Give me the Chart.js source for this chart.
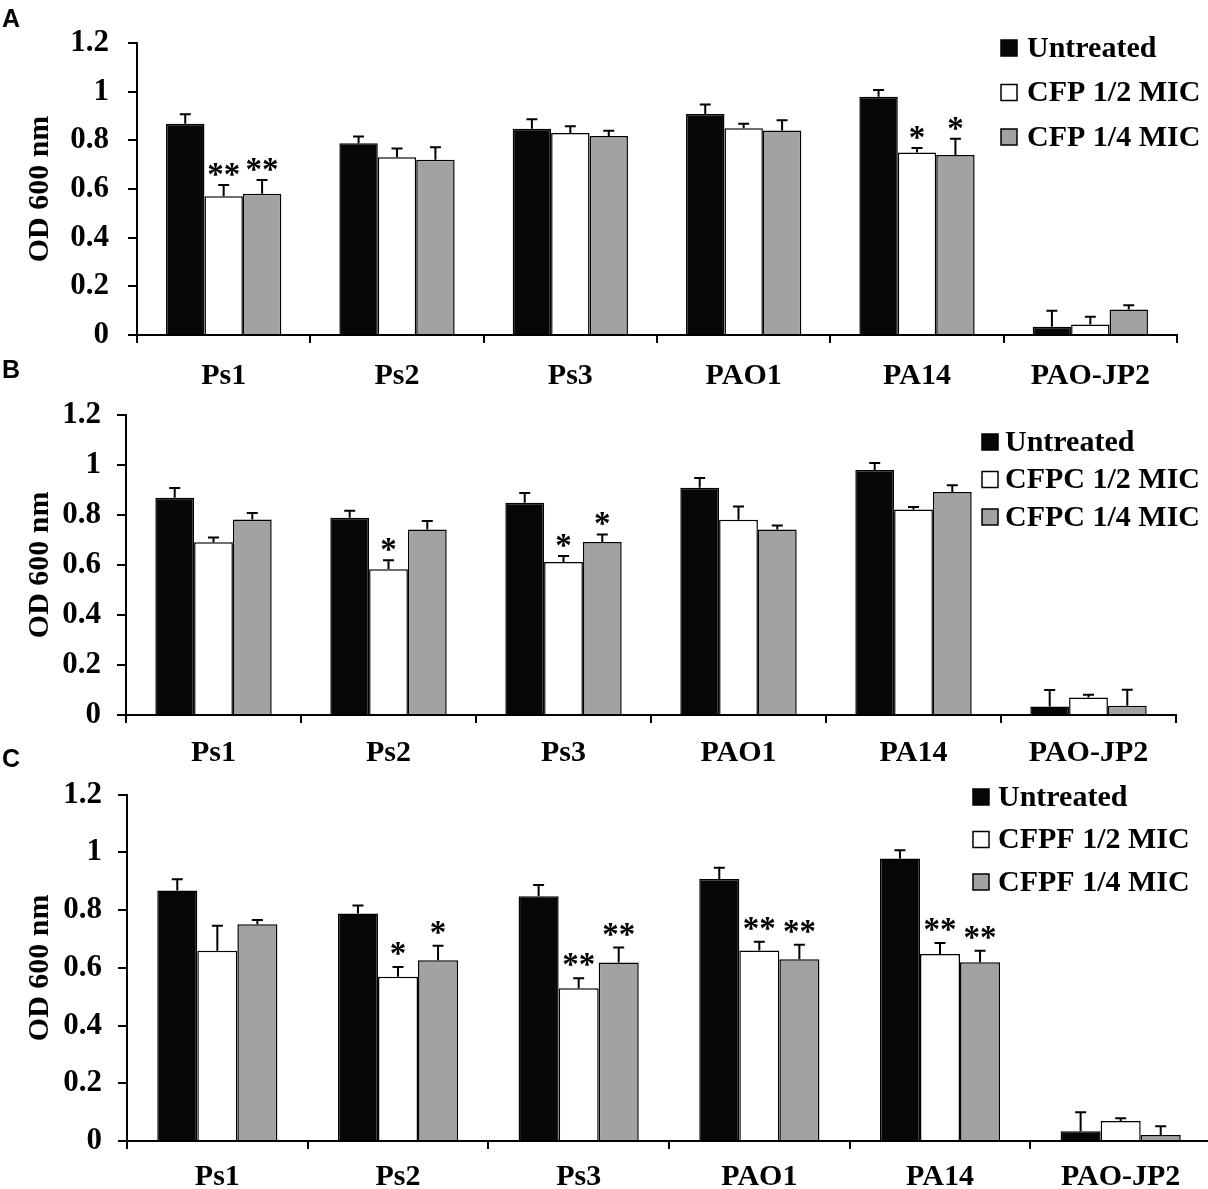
<!DOCTYPE html>
<html>
<head>
<meta charset="utf-8">
<script src="https://cdn.jsdelivr.net/npm/chart.js@4.4.1/dist/chart.umd.min.js"></script>
<style>
  html, body { margin: 0; padding: 0; background: #fff; overflow: hidden; width: 1208px; height: 1189px; }
  .panel { position: absolute; left: 0; }
  .tag { position: absolute; left: 2px; font: bold 25px "Liberation Sans", Arial, sans-serif; line-height: 25px; color: #000; }
</style>
</head>
<body>
<div class="panel" style="top:0px;width:1208px;height:395px"><canvas id="chartA"></canvas></div>
<div class="panel" style="top:380px;width:1208px;height:390px"><canvas id="chartB"></canvas></div>
<div class="panel" style="top:760px;width:1216px;height:429px"><canvas id="chartC"></canvas></div>
<div class="tag" style="top:6px">A</div>
<div class="tag" style="top:357px">B</div>
<div class="tag" style="top:746px">C</div>
<script>
const categories = ["Ps1", "Ps2", "Ps3", "PAO1", "PA14", "PAO-JP2"];
const yTickLabels = ["0", "0.2", "0.4", "0.6", "0.8", "1", "1.2"];

// untreated control, same in all three panels
const untreated = [0.868, 0.788, 0.848, 0.908, 0.979, 0.034];
const untreatedErr = [0.039, 0.028, 0.039, 0.039, 0.028, 0.066];

// panel A - CFP
const cfpHalf = [0.57, 0.73, 0.83, 0.85, 0.75, 0.043];
const cfpHalfErr = [0.046, 0.036, 0.028, 0.018, 0.018, 0.032];
const cfpHalfSig = ["**", "", "", "", "*", ""];
const cfpQuarter = [0.58, 0.72, 0.818, 0.84, 0.74, 0.105];
const cfpQuarterErr = [0.057, 0.052, 0.021, 0.043, 0.066, 0.017];
const cfpQuarterSig = ["**", "", "", "", "*", ""];

// panel B - CFPC
const cfpcHalf = [0.69, 0.582, 0.611, 0.78, 0.821, 0.07];
const cfpcHalfErr = [0.019, 0.036, 0.024, 0.053, 0.01, 0.011];
const cfpcHalfSig = ["", "*", "*", "", "", ""];
const cfpcQuarter = [0.781, 0.741, 0.691, 0.741, 0.891, 0.037];
const cfpcQuarterErr = [0.026, 0.034, 0.03, 0.016, 0.027, 0.064];
const cfpcQuarterSig = ["", "", "*", "", "", ""];

// panel C - CFPF
const cfpfHalf = [0.659, 0.569, 0.529, 0.66, 0.648, 0.069];
const cfpfHalfErr = [0.087, 0.034, 0.035, 0.03, 0.038, 0.01];
const cfpfHalfSig = ["", "*", "**", "**", "**", ""];
const cfpfQuarter = [0.751, 0.626, 0.618, 0.63, 0.619, 0.021];
const cfpfQuarterErr = [0.015, 0.05, 0.052, 0.05, 0.04, 0.03];
const cfpfQuarterSig = ["", "*", "**", "**", "**", ""];

const serif = "Liberation Serif";

// error bars (upper only) and significance stars
const errorBars = {
  id: "errorBars",
  afterDatasetsDraw(chart) {
    const ctx = chart.ctx;
    const y = chart.scales.y;
    ctx.save();
    chart.data.datasets.forEach((ds, i) => {
      chart.getDatasetMeta(i).data.forEach((bar, j) => {
        const top = y.getPixelForValue(ds.data[j] + ds.errors[j]);
        ctx.strokeStyle = "#000";
        ctx.lineWidth = 2;
        ctx.beginPath();
        ctx.moveTo(bar.x, bar.y);
        ctx.lineTo(bar.x, top);
        ctx.moveTo(bar.x - 5.5, top);
        ctx.lineTo(bar.x + 5.5, top);
        ctx.stroke();
        if (ds.sig && ds.sig[j]) {
          const cy = y.getPixelForValue(ds.data[j] + ds.errors[j] + 0.065);
          ctx.fillStyle = "#000";
          ctx.font = "bold 33px '" + serif + "'";
          ctx.textAlign = "center";
          ctx.textBaseline = "alphabetic";
          ctx.fillText(ds.sig[j], bar.x, cy + 16);
        }
      });
    });
    ctx.restore();
  },
};

// square legend in the upper right
const boxLegend = {
  id: "boxLegend",
  afterDraw(chart, args, opts) {
    const ctx = chart.ctx;
    ctx.save();
    ctx.font = "bold 30px '" + serif + "'";
    ctx.textBaseline = "middle";
    ctx.textAlign = "left";
    chart.data.datasets.forEach((ds, i) => {
      const cy = opts.top + i * opts.gap;
      ctx.fillStyle = ds.backgroundColor;
      ctx.fillRect(opts.left, cy - 8, 16, 16);
      ctx.strokeStyle = "#000";
      ctx.lineWidth = 1.5;
      ctx.strokeRect(opts.left, cy - 8, 16, 16);
      ctx.fillStyle = "#000";
      ctx.fillText(ds.label, opts.textLeft, cy + 1);
    });
    ctx.restore();
  },
};

function makeChart(id, names, half, halfErr, halfSig, quarter, quarterErr, quarterSig, L) {
  const ctx = document.getElementById(id).getContext("2d");
  return new Chart(ctx, {
    type: "bar",
    data: {
      labels: categories,
      datasets: [
        { label: "Untreated", data: untreated, errors: untreatedErr, sig: [], backgroundColor: "#060808", borderColor: "#000", borderWidth: 1.5 },
        { label: names[0], data: half, errors: halfErr, sig: halfSig, backgroundColor: "#ffffff", borderColor: "#000", borderWidth: 1.5 },
        { label: names[1], data: quarter, errors: quarterErr, sig: quarterSig, backgroundColor: "#a2a2a2", borderColor: "#000", borderWidth: 1.5 },
      ],
    },
    options: {
      responsive: true,
      maintainAspectRatio: false,
      animation: false,
      layout: { padding: { top: L.padTop, right: L.padRight, left: 0, bottom: 0 } },
      datasets: { bar: { categoryPercentage: 0.665, barPercentage: 1 } },
      plugins: {
        legend: { display: false },
        tooltip: { enabled: false },
        boxLegend: L.legend,
      },
      scales: {
        x: {
          grid: { display: true, drawOnChartArea: false, drawTicks: true, tickLength: 8, color: "#000", lineWidth: 2 },
          border: { display: true, color: "#000", width: 2 },
          ticks: { color: "#000", font: { family: serif, size: 30, weight: "bold" }, padding: L.xPad, maxRotation: 0, autoSkip: false },
          afterFit: (s) => { s.height = L.xHeight; },
        },
        y: {
          min: 0,
          max: 1.2,
          ticks: {
            stepSize: 0.2,
            color: "#000",
            font: { family: serif, size: 31, weight: "bold" },
            padding: L.yPad,
            callback: (v) => yTickLabels[Math.round(v / 0.2)],
          },
          grid: { drawOnChartArea: false, drawTicks: true, tickLength: 9, color: "#000", lineWidth: 2 },
          border: { display: true, color: "#000", width: 2 },
          title: { display: true, text: "OD 600 nm", color: "#000", font: { family: serif, size: 30, weight: "bold" }, padding: { top: 22, bottom: 0 } },
          afterFit: (s) => { s.width = L.yWidth; },
        },
      },
    },
    plugins: [errorBars, boxLegend],
  });
}

makeChart("chartA", ["CFP 1/2 MIC", "CFP 1/4 MIC"], cfpHalf, cfpHalfErr, cfpHalfSig, cfpQuarter, cfpQuarterErr, cfpQuarterSig,
  { padTop: 43, padRight: 31, xHeight: 60, xPad: 15, yWidth: 137, yPad: 19, legend: { left: 1001, textLeft: 1027, top: 48, gap: 44.5 } });

makeChart("chartB", ["CFPC 1/2 MIC", "CFPC 1/4 MIC"], cfpcHalf, cfpcHalfErr, cfpcHalfSig, cfpcQuarter, cfpcQuarterErr, cfpcQuarterSig,
  { padTop: 20, padRight: 32, xHeight: 55, xPad: 12, yWidth: 126, yPad: 16, legend: { left: 982, textLeft: 1005, top: 62, gap: 37.5 } });

makeChart("chartC", ["CFPF 1/2 MIC", "CFPF 1/4 MIC"], cfpfHalf, cfpfHalfErr, cfpfHalfSig, cfpfQuarter, cfpfQuarterErr, cfpfQuarterSig,
  { padTop: 21, padRight: 5, xHeight: 48, xPad: 10, yWidth: 127, yPad: 16, legend: { left: 973, textLeft: 998, top: 37, gap: 42.5 } });
</script>
</body>
</html>
